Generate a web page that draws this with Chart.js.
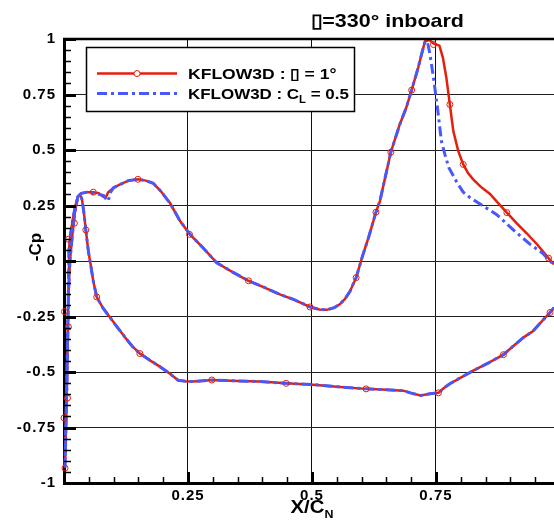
<!DOCTYPE html>
<html><head><meta charset="utf-8">
<script src="https://cdn.jsdelivr.net/npm/chart.js@4/dist/chart.umd.min.js"></script>
<style>html,body{margin:0;padding:0;background:#fff}canvas{display:block}</style>
</head><body>
<canvas id="c" width="554" height="525"></canvas>
<script>
// ---- data ----
const titleText = "\u25AF=330\u00B0 inboard";
const xTitle = "X/C";
const xTitleSub = "N";
const yTitle = "-Cp";
const legend1 = "KFLOW3D : \u25AF = 1\u00B0";
const legend2a = "KFLOW3D : C";
const legend2sub = "L";
const legend2b = " = 0.5";

const xTickValues = [0.25, 0.5, 0.75];
const yTickValues = [-1, -0.75, -0.5, -0.25, 0, 0.25, 0.5, 0.75, 1];

// lower branch, trailing edge -> stagnation point (shared by both runs)
const lowerX = [0.988, 0.98, 0.962, 0.946, 0.926, 0.905, 0.886, 0.855, 0.825, 0.8, 0.778, 0.766, 0.755, 0.738, 0.719, 0.70, 0.684, 0.65, 0.609, 0.55, 0.503, 0.448, 0.395, 0.35, 0.298, 0.275, 0.26, 0.245, 0.23, 0.212, 0.194, 0.175, 0.153, 0.138, 0.126, 0.108, 0.093, 0.078, 0.066, 0.059, 0.054, 0.049, 0.044, 0.04, 0.036, 0.032, 0.028, 0.022, 0.017, 0.012, 0.009, 0.007, 0.005, 0.003, 0.002];
const lowerY = [-0.21, -0.232, -0.275, -0.315, -0.345, -0.385, -0.422, -0.46, -0.494, -0.525, -0.553, -0.572, -0.594, -0.598, -0.606, -0.595, -0.584, -0.58, -0.576, -0.566, -0.557, -0.551, -0.543, -0.54, -0.536, -0.54, -0.543, -0.542, -0.537, -0.505, -0.477, -0.45, -0.417, -0.385, -0.352, -0.30, -0.255, -0.21, -0.162, -0.09, -0.02, 0.046, 0.14, 0.22, 0.28, 0.30, 0.29, 0.22, 0.12, 0.0, -0.15, -0.35, -0.6, -0.8, -0.93];

// upper branch, stagnation point -> trailing edge, KFLOW3D alpha = 1 deg
const redUpX = [0.002, 0.004, 0.006, 0.008, 0.009, 0.01, 0.013, 0.018, 0.023, 0.028, 0.035, 0.045, 0.059, 0.07, 0.079, 0.084, 0.089, 0.1, 0.113, 0.13, 0.149, 0.165, 0.18, 0.195, 0.214, 0.234, 0.254, 0.28, 0.308, 0.34, 0.372, 0.4, 0.435, 0.465, 0.496, 0.515, 0.53, 0.545, 0.556, 0.567, 0.577, 0.589, 0.602, 0.614, 0.629, 0.637, 0.648, 0.659, 0.677, 0.69, 0.701, 0.714, 0.722, 0.728, 0.737, 0.745, 0.757, 0.764, 0.771, 0.778, 0.785, 0.795, 0.805, 0.815, 0.825, 0.84, 0.859, 0.875, 0.893, 0.912, 0.933, 0.955, 0.977, 0.988];
const redUpY = [-0.93, -0.75, -0.55, -0.3, -0.1, 0.05, 0.12, 0.19, 0.25, 0.29, 0.305, 0.31, 0.31, 0.305, 0.29, 0.285, 0.31, 0.33, 0.345, 0.362, 0.368, 0.362, 0.35, 0.315, 0.26, 0.18, 0.12, 0.06, -0.008, -0.05, -0.089, -0.115, -0.15, -0.175, -0.207, -0.218, -0.22, -0.21, -0.195, -0.17, -0.135, -0.075, 0.023, 0.105, 0.22, 0.27, 0.38, 0.49, 0.615, 0.69, 0.77, 0.87, 0.94, 0.99, 0.995, 0.98, 0.97, 0.915, 0.825, 0.705, 0.585, 0.495, 0.435, 0.395, 0.368, 0.335, 0.302, 0.262, 0.218, 0.172, 0.125, 0.072, 0.013, -0.015];

// upper branch, KFLOW3D CL = 0.5
const blueUpX = [0.002, 0.004, 0.006, 0.008, 0.009, 0.01, 0.013, 0.018, 0.023, 0.028, 0.035, 0.045, 0.059, 0.07, 0.08, 0.086, 0.089, 0.094, 0.1, 0.113, 0.13, 0.149, 0.165, 0.18, 0.195, 0.214, 0.234, 0.254, 0.28, 0.308, 0.34, 0.372, 0.4, 0.435, 0.465, 0.496, 0.515, 0.53, 0.545, 0.556, 0.567, 0.577, 0.589, 0.602, 0.614, 0.629, 0.637, 0.648, 0.659, 0.677, 0.69, 0.701, 0.714, 0.722, 0.728, 0.733, 0.738, 0.745, 0.753, 0.761, 0.768, 0.776, 0.792, 0.805, 0.819, 0.845, 0.872, 0.906, 0.94, 0.965, 0.988];
const blueUpY = [-0.93, -0.75, -0.55, -0.3, -0.1, 0.05, 0.12, 0.19, 0.25, 0.29, 0.305, 0.31, 0.305, 0.3, 0.295, 0.275, 0.27, 0.31, 0.33, 0.345, 0.362, 0.368, 0.362, 0.35, 0.315, 0.26, 0.18, 0.12, 0.06, -0.008, -0.05, -0.089, -0.115, -0.15, -0.175, -0.207, -0.218, -0.22, -0.21, -0.195, -0.17, -0.135, -0.075, 0.023, 0.105, 0.22, 0.27, 0.38, 0.49, 0.615, 0.69, 0.77, 0.87, 0.94, 0.99, 0.985, 0.93, 0.825, 0.69, 0.54, 0.48, 0.42, 0.355, 0.31, 0.285, 0.248, 0.21, 0.14, 0.075, 0.035, -0.018];

// circle symbols on the alpha = 1 deg run
const markX = [0.002, 0.0, 0.007, 0.009, 0.001, 0.009, 0.021, 0.044, 0.066, 0.153, 0.298, 0.448, 0.609, 0.755, 0.886, 0.98, 0.059, 0.149, 0.253, 0.372, 0.496, 0.589, 0.629, 0.659, 0.701, 0.745, 0.778, 0.805, 0.893, 0.977];
const markY = [-0.933, -0.707, -0.617, -0.297, -0.228, 0.098, 0.17, 0.14, -0.162, -0.417, -0.536, -0.551, -0.576, -0.594, -0.422, -0.232, 0.31, 0.368, 0.12, -0.089, -0.207, -0.075, 0.22, 0.49, 0.77, 0.975, 0.705, 0.435, 0.218, 0.013];

// ---- build ----
const pts = (xs, ys) => xs.map((x, i) => ({x: x, y: ys[i]}));
const redPts = pts(lowerX, lowerY).concat(pts(redUpX, redUpY));
const bluePts = pts(lowerX, lowerY).concat(pts(blueUpX, blueUpY));
const markPts = pts(markX, markY);

const RED = 'rgb(228,32,12)';
const BLUE = 'rgb(72,88,250)';
const FAM = "'Liberation Sans', Arial, Helvetica, sans-serif";
const STRETCH = 1.13;

function stext(ctx, str, x, y, sx) {
  ctx.save(); ctx.translate(x, y); ctx.scale(sx, 1); ctx.fillText(str, 0, 0); ctx.restore();
  return ctx.measureText(str).width * sx;
}

const deco = {
  id: 'deco',
  beforeDraw(chart) {
    const ctx = chart.ctx;
    ctx.save(); ctx.fillStyle = '#fff'; ctx.fillRect(0, 0, chart.width, chart.height); ctx.restore();
    try { ctx.letterSpacing = '1px'; } catch (e) {}
  },
  afterDatasetsDraw(chart) {
    const ctx = chart.ctx;
    try { ctx.letterSpacing = '0px'; } catch (e) {}
    const a = chart.chartArea, xs = chart.scales.x, ys = chart.scales.y;
    ctx.save();
    ctx.strokeStyle = '#000';
    // top frame
    ctx.lineWidth = 2.5;
    ctx.beginPath(); ctx.moveTo(a.left - 1, a.top); ctx.lineTo(a.right, a.top); ctx.stroke();
    // inward ticks on left axis
    for (let k = -20; k <= 20; k++) {
      const v = k * 0.05, y = Math.round(ys.getPixelForValue(v)) + 0.5;
      const major = k % 5 === 0;
      ctx.lineWidth = major ? 3 : 1.5;
      ctx.beginPath(); ctx.moveTo(a.left, y); ctx.lineTo(a.left + (major ? 12 : 7), y); ctx.stroke();
    }
    // inward ticks on bottom axis
    for (let k = 1; k <= 19; k++) {
      const v = k * 0.05, x = Math.round(xs.getPixelForValue(v)) + 0.5;
      const major = k % 5 === 0;
      ctx.lineWidth = major ? 3 : 1.5;
      ctx.beginPath(); ctx.moveTo(x, a.bottom); ctx.lineTo(x, a.bottom - (major ? 11 : 6)); ctx.stroke();
    }
    ctx.restore();
  },
  afterDraw(chart) {
    const ctx = chart.ctx;
    try { ctx.letterSpacing = '0px'; } catch (e) {}
    const xs = chart.scales.x;
    ctx.save();
    ctx.fillStyle = '#000';
    ctx.textBaseline = 'alphabetic';
    ctx.textAlign = 'left';
    // title
    ctx.font = 'bold 19px ' + FAM;
    stext(ctx, titleText, 311, 27, STRETCH);
    // legend box
    const lx = 86, ly = 47, lw = 268, lh = 64;
    ctx.fillStyle = '#fff';
    ctx.fillRect(lx, ly, lw, lh);
    ctx.strokeStyle = '#000'; ctx.lineWidth = 1.5;
    ctx.strokeRect(lx + 0.5, ly + 0.5, lw, lh);
    // legend entries
    ctx.lineWidth = 2.5; ctx.strokeStyle = RED;
    ctx.beginPath(); ctx.moveTo(97, 73.5); ctx.lineTo(177, 73.5); ctx.stroke();
    ctx.lineWidth = 1; ctx.beginPath(); ctx.arc(137, 73.5, 3, 0, Math.PI * 2); ctx.fillStyle = '#fff'; ctx.fill(); ctx.stroke();
    ctx.strokeStyle = BLUE; ctx.lineWidth = 3; ctx.setLineDash([10, 4, 3, 4]);
    ctx.beginPath(); ctx.moveTo(97, 93.5); ctx.lineTo(177, 93.5); ctx.stroke();
    ctx.setLineDash([]);
    ctx.fillStyle = '#000';
    ctx.font = 'bold 15px ' + FAM;
    stext(ctx, legend1, 188, 79, 1.17);
    let w = stext(ctx, legend2a, 188, 99, STRETCH);
    ctx.font = 'bold 10px ' + FAM;
    let w2 = stext(ctx, legend2sub, 188 + w, 103, STRETCH);
    ctx.font = 'bold 15px ' + FAM;
    stext(ctx, legend2b, 188 + w + w2, 99, STRETCH);
    // x axis title
    const cx = xs.getPixelForValue(0.5);
    ctx.font = 'bold 18px ' + FAM;
    const tw = ctx.measureText(xTitle).width * STRETCH;
    ctx.font = 'bold 11px ' + FAM;
    const sw = ctx.measureText(xTitleSub).width * STRETCH;
    const x0 = cx - (tw + sw) / 2;
    ctx.font = 'bold 18px ' + FAM;
    stext(ctx, xTitle, x0, 513, STRETCH);
    ctx.font = 'bold 11px ' + FAM;
    stext(ctx, xTitleSub, x0 + tw, 518, STRETCH);
    // y axis title
    ctx.font = 'bold 17px ' + FAM;
    ctx.save();
    ctx.translate(41, 247); ctx.rotate(-Math.PI / 2);
    ctx.textAlign = 'center'; ctx.textBaseline = 'alphabetic';
    ctx.fillText(yTitle, 0, 0);
    ctx.restore();
    ctx.restore();
  }
};

const tickFont = {family: FAM, size: 15, weight: 'bold'};

new Chart(document.getElementById('c').getContext('2d'), {
  type: 'scatter',
  data: {
    datasets: [
      {label: 'markers', data: markPts, showLine: false, pointStyle: 'circle', pointRadius: 3, pointBorderWidth: 1,
       pointBorderColor: RED, pointBackgroundColor: 'rgba(255,255,255,0)', clip: false, order: 0},
      {label: 'KFLOW3D : CL = 0.5', data: bluePts, showLine: true, borderColor: BLUE, borderWidth: 3,
       borderDash: [10, 4, 3, 4], pointRadius: 0, tension: 0, clip: false, order: 1},
      {label: 'KFLOW3D : alpha = 1', data: redPts, showLine: true, borderColor: RED, borderWidth: 2.5,
       pointRadius: 0, tension: 0, clip: false, order: 2}
    ]
  },
  options: {
    responsive: false, animation: false, devicePixelRatio: 1,
    layout: {autoPadding: false, padding: {top: 39, left: 0, right: 0, bottom: 0}},
    plugins: {legend: {display: false}, tooltip: {enabled: false}, title: {display: false}},
    scales: {
      x: {
        type: 'linear', min: 0, max: 0.988,
        afterFit(s) { s.height = 42; },
        afterBuildTicks(s) { s.ticks = xTickValues.map(v => ({value: v})); },
        grid: {color: '#111', lineWidth: 1, drawTicks: false},
        border: {display: true, color: '#000', width: 3},
        ticks: {font: tickFont, color: '#000', padding: 4, maxRotation: 0, callback: v => String(v)}
      },
      y: {
        type: 'linear', min: -1, max: 1,
        afterFit(s) { s.width = 64; },
        afterBuildTicks(s) { s.ticks = yTickValues.map(v => ({value: v})); },
        grid: {color: c => (c.tick && Math.abs(c.tick.value) === 1) ? 'rgba(0,0,0,0)' : '#222', lineWidth: 1, drawTicks: false},
        border: {display: true, color: '#000', width: 3},
        ticks: {font: tickFont, color: '#000', padding: 8, callback: v => String(v)}
      }
    }
  },
  plugins: [deco]
});
</script>
</body></html>
